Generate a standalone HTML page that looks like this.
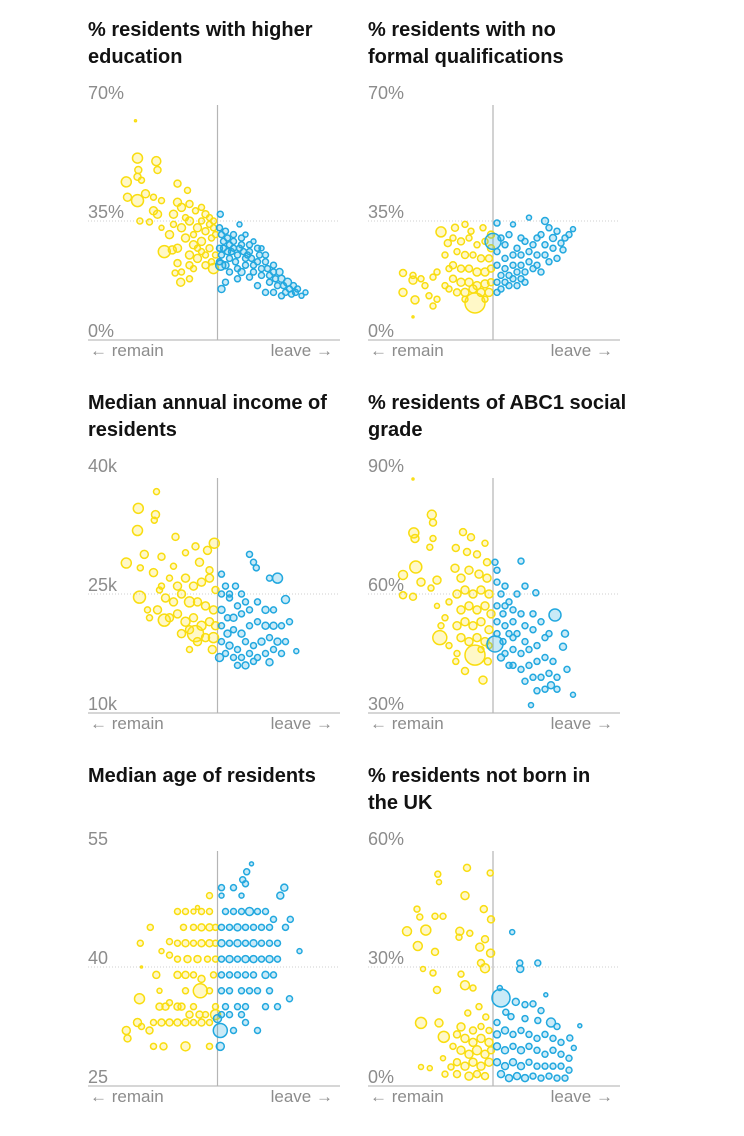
<!DOCTYPE html>
<html><head><meta charset="utf-8"><style>
body{margin:0;background:#fff;}
svg{display:block;}
.title{font-family:"Liberation Sans",sans-serif;font-weight:bold;font-size:20px;fill:#121212;}
.tick{font-family:"Liberation Sans",sans-serif;font-size:18px;fill:#8c8c8c;}
.dir{font-family:"Liberation Sans",sans-serif;font-size:17px;fill:#8c8c8c;}
</style></head><body>
<svg id="chart" width="744" height="1136" viewBox="0 0 744 1136" xmlns="http://www.w3.org/2000/svg"></svg>
<script>
const eduTicks=["0%","35%","70%"];const eduDomain=[0,70];
const eduPts=[[30,53.5,5],[34.7,52.6,4.5],[30.2,50,3.5],[35,50,3.5],[30,48,3.5],[31,47,3],[27.2,46.5,5],[40,46,3.5],[42.5,44,3],[27.5,42,4],[30,41,6],[32,43,4],[34,42,3],[36,41,3],[40,40.5,4],[41,39,4],[43,40,3.5],[44.5,38,3],[46,39,3],[47,37,3.5],[48,36,3],[49,35,3],[30.6,35,3],[33,34.7,3],[36,33,2.5],[35,37,4],[34,38,4],[39,37,4],[41,33,4],[43,35,4],[45,33,4],[47,32,3.5],[48.5,30,3],[49,33,3],[42,30,4],[44,28,4],[46,29,4],[48,27,3.5],[49.5,25,3],[40,27,4],[43,25,4],[45,24,4],[47,22,3.5],[49,21,5],[36.7,26,6],[38.7,26.5,4],[40,22.6,3.5],[39.4,19.7,3],[40.8,17,4],[43,18,3],[41,20,3],[44,21,3],[46,26,3],[42,36,3],[44,31,3],[46,35,3],[48,34,3],[49.5,31,3],[38,31,4],[39,34,3],[47,25,3],[45,27,3],[43,22,3.5],[48.5,23,3],[29.5,64.5,1],
[50.7,37,3],[55.5,34,2.5],[51,15,3.5],[50.5,33,3],[51,31,3],[51.5,29,3],[50.5,27,3],[51,25,3],[50.5,23,3],[52,22,3.5],[52,32,3],[52.5,30,3],[53,28,3],[52.5,26,3],[53,24,3],[54,31,3],[54,29,3],[54,27,3],[55,25,3],[54.5,23,3],[55,21,3],[56,30,3],[56,28,3],[56.5,26,3],[57,24,3],[57,22,3],[56,20,3.5],[58,28,3],[58,26,3],[58.5,24,3],[59,22,3],[59,20,3],[58,18.5,3],[60,27,3],[60.5,25,3],[60,23,3],[61,21,3],[61,19,3],[62,25,3],[62,23,3],[62.5,21,3],[63,19,3],[63,17,3],[64,22,3],[64,20,3],[64.5,18,3],[65,16,3],[65.5,20,3.5],[66,18,3.5],[66.5,16,3],[67,14,3],[67.5,17,4],[68,15,3],[68.5,13.5,3],[69,16,3],[69.5,14,3],[70,15,3],[71,13,2.5],[72,14,2.5],[57,31,2.5],[59,29,2.5],[61,27,2.5],[53,20,3],[55,18,3],[60,16,3],[62,14,3],[64,14,3],[66,13,3],[52,17,3],[51.5,27,3],[53.5,26,3],[55.5,27,3],[57.5,25,3],[50.8,22,5]];

const nqTicks=["0%","35%","70%"];const nqDomain=[0,70];
const nqPts=[[37,31.8,5],[40.5,33,3.5],[43,34,3],[47.5,33,3],[38.7,28.5,3.5],[38,25,3],[27.5,19.7,3.5],[27.5,14,4],[30,17.6,4],[30.5,11.8,4],[30,19,3],[32,18,3],[33,16,3],[35,18.5,3],[36,20,3],[35,10,3],[34,13,3],[36,12,3],[45.5,10.9,10],[30,6.8,1],[40,30,3],[42,29,3.5],[44,30,3],[46,28,3],[48,29,3],[49.5,27,3.5],[41,26,3],[43,25,3.5],[45,25,3],[47,24,3.5],[49,24,3.5],[40,22,3.5],[42,21,3.5],[44,21,3.5],[46,20,4],[48,20,4],[49.5,21,3.5],[40,18,3.5],[42,17,4],[44,17,4],[46,16,4],[48,16.5,4],[49.5,17,3.5],[41,14,3.5],[43,14,4],[45,15,4],[47,14,4],[49,14,4],[39,15,3],[43,12,3],[48,12,3],[49.5,31,3.5],[44.5,32,3],[39,21,3],[38,16,3],
[51,34.4,3],[55,34,2.5],[59,36,2.5],[63,35,3.5],[64,33,3],[70,32.6,2.5],[67.5,26.5,3],[50,29,8],[66,32,3],[68,30,3],[65,30,3.5],[67,28.5,3],[62,31,3],[60,28,3],[63,28,3],[65,27,3],[58,29,3],[56,27,3],[53,28,3],[52,30,3],[51,26,3],[53,24,3],[55,25,3],[57,25,3],[59,26,3],[61,25,3],[63,25,3],[51,22,3],[53,21,3],[55,22,3],[57,22,3],[59,23,3],[61,22,3],[52,19,3],[54,19,3],[56,20,3],[58,20,3],[60,21,3],[51,17,3],[53,17,3],[55,18,3],[57,18,3],[52,15,3],[54,16,3],[51,14,3],[56,16,3],[64,23,3],[62,20,3],[66,24,3],[58,17,3],[61,30,3],[57,30,3],[54,31,3],[69,31,3]];

const incTicks=["10k","25k","40k"];const incDomain=[10,40];
const incPts=[[34.75,37.9,3],[30.2,35.8,5],[34.5,35,4],[34.2,34.3,3],[30,33,5],[27.2,28.9,5],[31.7,30,4],[36,29.7,3.5],[39.5,32.2,3.5],[44.5,31,3.5],[49.2,31.4,5],[47.5,30.5,4],[42,30.2,3],[45.5,29,4],[48,28,3.5],[30.5,24.6,6],[30.7,28.3,3],[34,27.7,4],[35,23,4],[36.7,21.7,6],[43,18,3],[48.7,18,4],[44.5,20,8],[38,27,3],[40,26,4],[42,27,4],[44,26,4],[46,26.5,4],[48,27,4],[49.5,25.5,3.5],[37,24.5,4],[39,24,4],[41,25,4],[43,24,5],[45,24,4],[47,23.5,4],[49,23,4],[38,22,4],[40,22.5,4],[42,21.5,4.5],[44,22,4],[46,21,4.5],[48,21.5,4],[49.5,21,4],[41,20,4],[43,20.5,4],[45,19,4],[47,19.5,4],[49,19.5,5],[33,22,3],[35.5,25.5,3],[32.5,23,3],[39,28.5,3],[36,26,3],
[58,30,3],[59,29,3],[59.7,28.3,3],[65,27,5],[63,27,3],[67,24.3,4],[68,21.5,3],[69.7,17.8,2.5],[63,16.4,3.5],[51,27.5,3],[52,26,3],[51,25,3],[53,24.5,3],[54.5,26,3],[56,25,3],[55,23.5,3],[51,23,3.5],[52.5,22,3],[54,22,3.5],[56,22.5,3],[58,23,3],[60,24,3],[62,23,3.5],[64,23,3],[51,21,3],[52.5,20,3.5],[54,20.5,3],[56,20,3.5],[58,21,3],[60,21.5,3],[62,21,3.5],[64,21,3.5],[66,21,3],[51,19,3],[53,18.5,3.5],[55,18,3],[57,19,3],[59,18.5,3],[61,19,3.5],[63,19.5,3],[65,19,3.5],[67,19,3],[52,17.5,3],[54,17,3],[56,17,3],[58,17.5,3],[60,17,3],[62,17.5,3],[64,18,3],[66,17.5,3],[55,16,3],[57,16,3.5],[59,16.5,3],[53,25,3],[57,24,3],[50.5,17,4]];

const abcTicks=["30%","60%","90%"];const abcDomain=[30,90];
const abcPts=[[30,89,1],[34.7,80,4.5],[35,78,3.5],[30.2,75.4,5],[30.5,74,4],[42.5,75.6,3.5],[44.5,74.3,3.5],[48,72.8,3],[35,74,3],[34.2,71.8,3],[30.7,66.8,6],[27.5,64.8,4.5],[27.5,59.7,3.5],[30,59.3,3.5],[32,63,4],[36,63.5,4],[34.5,61.5,3],[36,57,2.5],[40.7,71.6,3.5],[43.5,70.6,3.5],[40.5,66.5,4],[46,70,3.5],[48.5,68,3.5],[42,64,4],[44,66,4],[46.5,65,4],[48.5,64,4],[41,60,4],[43,61,4],[45,60,4],[47,61,4],[49,60,4],[42,56,4],[44,57,4],[46,56,4],[48,57,4],[49.5,55,4],[41,52,4],[43,53,4],[45,52,4],[47,53,4],[49,51,4],[42,49,4],[44,48,4],[46,49,4],[48,48,4],[36.7,49,7],[45.5,44.6,10],[47.5,38.3,4],[40.7,43,3],[43,40.6,3.5],[48.7,43,3.5],[39,47,3],[38,54,3],[39,58,3],[37,52,3],[47,46,3],[49,47,3],[41,45,3],
[50.5,68,3],[51,66,3],[57,68.3,3],[58,62,3],[60.7,60.3,3],[65.5,54.7,6],[68,50,3.5],[67.5,46.7,3.5],[68.5,41,3],[70,34.6,2.5],[59.5,32,2.5],[61,35.6,3],[50.5,47.4,8],[51,63,3],[52,60,3],[53,62,3],[54,58,3],[51,57,3],[52.5,55,3],[55,56,3],[56,60,3],[51,53,3],[53,52,3],[55,53,3],[57,55,3],[58,52,3],[51,50,3],[52.5,48,3],[54,50,3],[56,50,3],[58,48,3],[60,51,3],[62,53,3],[53,45,3],[55,46,3],[57,45,3],[59,46,3],[61,47,3],[63,49,3],[55,42,3],[57,41,3],[59,42,3],[61,43,3],[63,44,3],[64,40,3],[62,39,3],[64.5,37,3.5],[66,39,3],[65,43,3],[60,39,3],[58,38,3],[66,36,3],[63,36,3],[53,57,3],[55,49,3],[60,55,3],[64,50,3],[52,44,3.5],[54,42,3]];

const ageTicks=["25","40","55"];const ageDomain=[25,55];
const agePts=[[48,49,3],[40,47,3],[42,47,3],[44,47,2.5],[46,47,3],[48,47,3],[45,47.5,2],[33.2,45,3],[41.5,45,3],[44,45,3],[46,45,3.5],[48,45,3.5],[49.5,45,3],[30.7,43,3],[38,43.2,3],[40,43,3],[42,43,3.5],[44,43,3],[46,43,3.5],[48,43,3.5],[49.5,43,3],[36,42,2.5],[38,41.5,3],[40,41,3],[42.5,41,3.5],[45,41,3.5],[47.5,41,3],[49.5,41,3],[31,40,1],[34.7,39,3.5],[40,39,3.5],[42,39,3.5],[44,39,3],[46,38.5,3.5],[49,39,3],[35.5,37,2.5],[42,37,3],[45.7,37,7],[48,37,3],[30.5,36,5],[38,35.5,3],[44,35,3],[49.5,35,3],[35.5,35,3.5],[37,35,3.5],[40,35,3.5],[41,35,3.5],[43,34,3.5],[45.5,34,3.5],[47,34,3],[49.5,34,5],[34,33,3],[36,33,3.5],[38,33,3.5],[40,33,3.5],[42,33,3.5],[44,33,3],[46,33,3.5],[48,33,3],[30,33,4],[31,32.5,3],[27.2,32,4],[33,32,3.5],[27.5,31,3.5],[34,30,3],[36.5,30,3.5],[42,30,4.5],[48,30,3],[50,33.5,4],
[58.5,53,2],[57.3,52,3],[56.3,51,3],[57,50.5,3],[66.7,50,3.5],[65.7,49,3.5],[51,50,3],[54,50,3],[56,49,2.5],[51,49,2.5],[52,47,3],[54,47,3],[56,47,3],[58,47,4],[60,47,3],[62,47,3],[64,46,3],[68.2,46,3],[51,45,3],[53,45,3],[55,45,3.5],[57,45,3],[59,45,3],[61,45,3],[63,45,3],[67,45,3],[51,43,3.5],[53,43,3],[55,43,3.5],[57,43,3],[59,43,3.5],[61,43,3],[63,43,3],[65,43,3],[70.5,42,2.5],[51,41,3],[53,41,3.5],[55,41,3],[57,41,3.5],[59,41,3.5],[61,41,3],[63,41,3.5],[65,41,3],[51,39,3],[53,39,3],[55,39,3],[57,39,3],[59,39,3],[62,39,3.5],[64,39,3],[51,37,3],[53,37,3],[56,37,3],[58,37,3],[60,37,3],[63,37,3],[68,36,3],[52,35,3],[55,35,3],[57,35,3],[62,35,3],[65,35,3],[51,34,3],[53,34,3],[56,34,3],[60,32,3],[50.7,32,7],[50.7,30,4],[54,32,3],[57,33,3]];

const bornTicks=["0%","30%","60%"];const bornDomain=[0,60];
const bornPts=[[43.5,55,3.5],[36.2,53.4,3],[36.5,51.4,2.5],[49.3,53.7,3],[43,48,4],[31,44.6,3],[31.7,42.6,3],[35.5,42.8,3],[37.5,42.8,3],[47.7,44.6,3.5],[49.5,42,3.5],[28.5,39,4.5],[33.2,39.3,5],[41.7,39,4],[41.5,37.5,3],[44.2,38.5,3],[48,37,3.5],[46.7,35,4],[31.2,35.3,4.5],[35.5,33.8,3.5],[49.4,33.5,4],[47,31,3.5],[48,29.7,4.5],[32.5,29.5,2.5],[35,28.5,3],[42,28.2,3],[43,25.4,4.5],[45,24.7,3],[36,24.2,3.5],[46.5,20,3],[43.7,18.4,3],[32,15.9,5.5],[36.5,15.9,4],[37.7,12.4,5.5],[42,14.9,4],[48.2,17.4,3],[32,4.8,2.5],[34.2,4.5,2.5],[37.5,7,2.5],[39.5,4.8,3],[41,13,3.5],[43,12,4],[45,11,4],[47,12,4],[49,11,4],[42,9,4],[44,8,4],[46,9,4.5],[48,8,4],[49.5,9,3.5],[41,6,3.5],[43,5,4],[45,6,4],[47,5,4],[49,6,4],[41,3,3.5],[44,2.5,4],[46,3,3.5],[48,2.5,3.5],[40,10,3],[38,3,3],[47,15,3],[49,14,3],[45,14,3.5],
[54.8,38.8,2.5],[56.7,31,3],[56.8,29.5,3.5],[61.2,31,3],[52,22.2,9],[51.7,24.7,2.5],[63.2,23,2],[55.7,21.2,3.5],[58,20.5,3],[60,20.7,3],[64.5,16,4.5],[71.7,15.2,2],[69.2,12.1,3],[70.2,9.6,2.5],[61.2,16.5,3],[53.2,18.6,3],[54.5,17.5,3],[51,16,3],[51,13,3.5],[53,14,3.5],[55,13,3],[57,14,3],[59,13,3],[61,12,3],[63,13,3],[65,12,3],[67,11,3],[51,10,3.5],[53,9,3.5],[55,10,3],[57,9,3.5],[59,10,3],[61,9,3],[63,8,3],[65,9,3],[67,8,3],[69,7,3],[51,6,3.5],[53,5,3.5],[55,6,3.5],[57,5,3.5],[59,6,3],[61,5,3],[63,5,3],[65,5,3],[67,5,3],[69,4,3],[52,3,3.5],[54,2,3.5],[56,2.5,3.5],[58,2,3.5],[60,2.5,3],[62,2,3],[64,2.5,3],[66,2,3],[68,2,3],[58,17,3],[62,19,3],[66,15,3]];

const NS="http://www.w3.org/2000/svg";
const svg=document.getElementById('chart');
function mk(tag,attrs,parent){const e=document.createElementNS(NS,tag);for(const k in attrs)e.setAttribute(k,attrs[k]);(parent||svg).appendChild(e);return e;}
const panels=[
 {key:'higher-education',title:["% residents with higher","education"],pts:eduPts,ticks:eduTicks,dom:eduDomain,x0:88,vx:217.5,axisY:340,topY:102},
 {key:'no-qualifications',title:["% residents with no","formal qualifications"],pts:nqPts,ticks:nqTicks,dom:nqDomain,x0:368,vx:493,axisY:340,topY:102},
 {key:'median-income',title:["Median annual income of","residents"],pts:incPts,ticks:incTicks,dom:incDomain,x0:88,vx:217.5,axisY:713,topY:475},
 {key:'abc1-grade',title:["% residents of ABC1 social","grade"],pts:abcPts,ticks:abcTicks,dom:abcDomain,x0:368,vx:493,axisY:713,topY:475},
 {key:'median-age',title:["Median age of residents"],pts:agePts,ticks:ageTicks,dom:ageDomain,x0:88,vx:217.5,axisY:1086,topY:848},
 {key:'not-born-uk',title:["% residents not born in","the UK"],pts:bornPts,ticks:bornTicks,dom:bornDomain,x0:368,vx:493,axisY:1086,topY:848}
];
panels.forEach(p=>{
 const g=mk('g',{});
 
 
 const xs=v=>p.vx+(v-50)*4;
 const ys=v=>p.axisY-(v-p.dom[0])/(p.dom[1]-p.dom[0])*(p.axisY-p.topY);
 p.title.forEach((t,i)=>{const e=mk('text',{x:p.x0,y:p.topY-66+i*27,'class':'title'},g);e.textContent=t;
  
  });
 const mid=(p.dom[0]+p.dom[1])/2;
 const gl=mk('line',{x1:p.x0,x2:p.x0+252,y1:ys(mid),y2:ys(mid),stroke:'#cfcfcf','stroke-width':1,'stroke-dasharray':'1,2'},g);
 
 
 [p.dom[0],mid,p.dom[1]].forEach((v,i)=>{const e=mk('text',{x:p.x0,y:ys(v)-3,'class':'tick'},g);e.textContent=p.ticks[i];
  
  });
 const ax=mk('line',{x1:p.x0,x2:p.x0+252,y1:p.axisY,y2:p.axisY,stroke:'#bdbdbd','stroke-width':1.2},g);
 
 
 const vl=mk('line',{x1:p.vx,x2:p.vx,y1:p.topY+3,y2:p.axisY,stroke:'#b5b5b5','stroke-width':1.2},g);
 
 
 p.pts.forEach(d=>{
  const leave=d[0]>=50;
  const c=mk('circle',{cx:xs(d[0]),cy:ys(d[1]),r:d[2],
   fill:leave?'rgba(40,170,225,0.25)':'rgba(255,228,30,0.25)',
   stroke:leave?'#22a8df':'#f9dd10','stroke-width':1.5},g);
  
  
 });
 const r=mk('text',{x:p.x0+2,y:p.axisY+16,'class':'dir'},g);r.textContent='← remain';
 
 
 const l=mk('text',{x:p.x0+245,y:p.axisY+16,'class':'dir','text-anchor':'end'},g);l.textContent='leave →';
 
 
});
</script>
</body></html>
